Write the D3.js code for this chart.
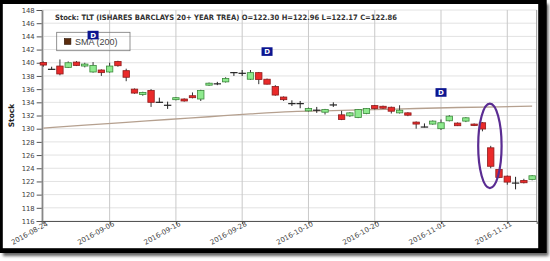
<!DOCTYPE html>
<html>
<head>
<meta charset="utf-8">
<script src="https://cdn.jsdelivr.net/npm/d3@7"></script>
<style>
  body { margin: 0; background: #fff; }
  svg { display: block; font-family: "DejaVu Sans", Verdana, sans-serif; }
</style>
</head>
<body>
<script>
// trading days shown on the chart (one candle each)
const dates = [
  "2016-08-24","2016-08-25","2016-08-26","2016-08-29","2016-08-30","2016-08-31",
  "2016-09-01","2016-09-02","2016-09-06","2016-09-07","2016-09-08","2016-09-09",
  "2016-09-12","2016-09-13","2016-09-14","2016-09-15","2016-09-16","2016-09-19",
  "2016-09-20","2016-09-21","2016-09-22","2016-09-23","2016-09-26","2016-09-27",
  "2016-09-28","2016-09-29","2016-09-30","2016-10-03","2016-10-04","2016-10-05",
  "2016-10-06","2016-10-07","2016-10-10","2016-10-11","2016-10-12","2016-10-13",
  "2016-10-14","2016-10-17","2016-10-18","2016-10-19","2016-10-20","2016-10-21",
  "2016-10-24","2016-10-25","2016-10-26","2016-10-27","2016-10-28","2016-10-31",
  "2016-11-01","2016-11-02","2016-11-03","2016-11-04","2016-11-07","2016-11-08",
  "2016-11-09","2016-11-10","2016-11-11","2016-11-14","2016-11-15","2016-11-16"
]
const opens = [
  140.05,139.05,139.5,139.3,140.1,139.5, 138.6,138.9,138.6,140.2,138.8,136.0,
  135.2,135.8,134.05,133.6,134.4,134.5, 135.0,134.5,136.6,136.9,137.1,138.55,
  138.45,137.5,138.5,137.5,136.4,134.8, 133.85,133.85,132.7,132.85,132.5,133.7,
  132.1,131.95,131.7,132.3,133.5,133.4, 133.25,132.4,132.4,131.0,130.3,130.7,
  130.0,131.2,130.85,131.15,130.7,130.9, 127.1,123.8,122.8,121.8,122.15,122.30
]
const highs = [
  140.2,139.4,140.5,140.2,140.25,140.0, 140.1,139.0,140.0,140.3,139.1,136.1,
  135.6,136.0,134.7,134.1,134.8,134.6, 135.5,135.9,137.0,137.1,137.8,138.6,
  138.9,138.9,138.6,137.6,136.6,134.9, 134.3,134.2,133.2,133.3,133.0,134.0,
  132.7,132.5,132.95,133.1,133.6,133.5, 133.35,133.55,132.5,131.1,130.8,131.25,
  131.4,132.05,130.95,131.75,130.8,131.0, 127.4,123.9,122.9,122.7,122.4,122.96
]
const lows = [
  139.4,138.9,138.1,139.2,139.5,139.3, 138.5,138.0,138.5,139.4,137.2,135.3,
  135.0,133.3,133.9,133.0,134.3,134.1, 134.6,134.2,136.5,136.6,137.0,138.0,
  138.0,137.4,136.75,136.7,135.0,134.2, 133.45,133.1,132.6,132.4,132.15,133.3,
  131.3,131.8,131.6,132.2,132.9,133.0, 132.3,132.3,131.9,130.0,130.2,130.6,
  129.8,131.1,130.4,131.0,130.4,129.6, 124.0,122.5,121.5,120.8,121.7,122.17
]
const closes = [
  139.65,139.0,138.3,140.0,139.6,139.8, 139.6,138.5,139.5,139.55,137.8,135.4,
  135.5,134.0,134.0,133.55,134.7,134.2, 134.7,135.8,136.9,136.8,137.6,138.5,
  138.4,138.5,137.45,136.75,135.1,134.4, 133.8,133.8,133.05,132.8,132.9,133.6,
  131.4,132.4,132.9,133.05,133.05,133.1, 132.65,132.8,132.05,130.7,130.25,131.15,
  130.9,131.9,130.45,131.65,130.55,129.95, 124.3,122.6,121.9,121.75,121.8,122.86
]
// 200-day SMA, read every 5 trading days
const smaDays = [0,5,10,15,20,25,30,35,40,45,50,55,59]
const smaValues = [130.10,130.54,130.96,131.39,131.81,132.24,132.59,132.74,132.89,133.06,133.21,133.32,133.41]

const yTicks = [116,118,120,122,124,126,128,130,132,134,136,138,140,142,144,146,148]
const xTickDays = [0,8,16,24,32,40,48,56]
const dividendDays = [6,27,48]
const title = "Stock: TLT (ISHARES BARCLAYS 20+ YEAR TREA) O=122.30 H=122.96 L=122.17 C=122.86"

const W = 550, H = 261
const plot = {left: 41.7, right: 536.7, top: 10, bottom: 221}

const svg = d3.select('body').append('svg')
    .attr('width', W)
    .attr('height', H)

// drop shadow + black frame of the screenshot
const defs = svg.append('defs')
defs.append('filter').attr('id', 'shadow')
    .attr('x', '-5%').attr('y', '-5%').attr('width', '110%').attr('height', '115%')
  .append('feGaussianBlur').attr('stdDeviation', 1.8)

svg.append('rect')
    .attr('x', 3).attr('y', 4).attr('width', 545.5).attr('height', 252)
    .attr('fill', '#666')
    .attr('filter', 'url(#shadow)')
svg.append('rect')
    .attr('x', 0).attr('y', 0).attr('width', 546.7).attr('height', 253)
    .attr('fill', '#000')
svg.append('rect')
    .attr('x', 2.8).attr('y', 4).attr('width', 535.4).attr('height', 244.2)
    .attr('fill', '#fff')

const xScale = d3.scaleLinear()
    .domain([-0.2, 59.55])
    .range([plot.left, plot.right])

const yScale = d3.scaleLinear()
    .domain([116, 148])
    .range([plot.bottom, plot.top])

// horizontal grid
svg.append('g')
    .selectAll('line')
    .data(yTicks)
    .enter()
    .append('line')
    .attr('x1', plot.left).attr('x2', plot.right)
    .attr('y1', d => yScale(d)).attr('y2', d => yScale(d))
    .attr('stroke', '#e2e2e2')

// vertical grid
svg.append('g')
    .selectAll('line')
    .data(xTickDays)
    .enter()
    .append('line')
    .attr('x1', d => xScale(d)).attr('x2', d => xScale(d))
    .attr('y1', plot.top).attr('y2', plot.bottom)
    .attr('stroke', '#c9c9c9')

// right border of plot
svg.append('line')
    .attr('x1', plot.right).attr('x2', plot.right)
    .attr('y1', plot.top).attr('y2', plot.bottom)
    .attr('stroke', '#999')

// y axis
const yAxis = svg.append('g')
    .attr('transform', 'translate(' + plot.left + ',0)')
    .call(d3.axisLeft(yScale).tickValues(yTicks).tickSize(5).tickPadding(2))
yAxis.select('.domain').attr('stroke', '#555')
yAxis.selectAll('.tick line').attr('stroke', '#555')
yAxis.selectAll('text')
    .attr('font-size', '6.8px')
    .attr('fill', '#444')
    .style('font-family', '"DejaVu Sans", sans-serif')

// x axis
const xAxis = svg.append('g')
    .attr('transform', 'translate(0,' + plot.bottom + ')')
    .call(d3.axisBottom(xScale).tickValues(xTickDays).tickSize(3).tickFormat(d => dates[d]))
xAxis.select('.domain').attr('stroke', '#555')
xAxis.selectAll('.tick line').attr('stroke', '#555')
xAxis.selectAll('text')
    .attr('font-size', '7px')
    .attr('fill', '#444')
    .style('font-family', '"DejaVu Sans", sans-serif')
    .attr('text-anchor', 'end')
    .attr('dy', null)
    .attr('y', 6)
    .attr('x', 2)
    .attr('transform', 'rotate(-29)')

// axis title
svg.append('text')
    .attr('transform', 'translate(14,115.5) rotate(-90)')
    .attr('text-anchor', 'middle')
    .attr('font-size', '7.5px')
    .attr('font-weight', 'bold')
    .attr('fill', '#222')
    .text('Stock')

// 200 day moving average
const smaLine = d3.line()
    .x((d, i) => xScale(smaDays[i]))
    .y(d => yScale(d))
    .curve(d3.curveMonotoneX)
svg.append('path')
    .datum(smaValues)
    .attr('d', smaLine)
    .attr('fill', 'none')
    .attr('stroke', '#b5a08f')
    .attr('stroke-width', 1.3)

// candlesticks
const candles = dates.map((d, i) => ({i: i, o: opens[i], h: highs[i], l: lows[i], c: closes[i]}))
const bodyW = 6.4

const candleG = svg.append('g')
    .selectAll('g')
    .data(candles)
    .enter()
    .append('g')

candleG.each(function(d) {
    const g = d3.select(this)
    const x = xScale(d.i)
    const flat = Math.abs(d.c - d.o) < 0.1
    const up = d.c > d.o
    const stroke = flat ? '#222' : (up ? '#3b8a3b' : '#8e1b1b')
    g.append('line')
        .attr('x1', x).attr('x2', x)
        .attr('y1', yScale(d.h)).attr('y2', yScale(d.l))
        .attr('stroke', flat ? '#222' : '#333')
        .attr('stroke-width', 1)
    if (flat) {
        g.append('line')
            .attr('x1', x - bodyW / 2 - 0.5).attr('x2', x + bodyW / 2 + 0.5)
            .attr('y1', yScale(d.c)).attr('y2', yScale(d.c))
            .attr('stroke', stroke)
            .attr('stroke-width', 1.2)
    } else {
        g.append('rect')
            .attr('x', x - bodyW / 2)
            .attr('y', yScale(Math.max(d.o, d.c)))
            .attr('width', bodyW)
            .attr('height', Math.max(1.5, yScale(Math.min(d.o, d.c)) - yScale(Math.max(d.o, d.c))))
            .attr('fill', up ? '#8eea8e' : '#ea2a2a')
            .attr('stroke', stroke)
            .attr('stroke-width', 0.8)
    }
})

// legend
const legend = svg.append('g')
legend.append('rect')
    .attr('x', 56.7).attr('y', 32.3)
    .attr('width', 73.3).attr('height', 18.4)
    .attr('fill', 'none')
    .attr('stroke', '#777')
    .attr('stroke-width', 0.8)
legend.append('rect')
    .attr('x', 64.3).attr('y', 38.6)
    .attr('width', 6.6).attr('height', 5.8)
    .attr('fill', '#5b2c0e')
    .attr('stroke', '#2a1405')
    .attr('stroke-width', 0.6)
legend.append('text')
    .attr('x', 75)
    .attr('y', 44.6)
    .attr('font-size', '9px')
    .attr('fill', '#444')
    .style('font-family', '"Liberation Sans", Arial, sans-serif')
    .text('SMA (200)')

// dividend markers (drawn over the legend, as in the source)
const divG = svg.append('g')
    .selectAll('g')
    .data(dividendDays)
    .enter()
    .append('g')
    .attr('transform', d => 'translate(' + xScale(d) + ',' + (yScale(highs[d]) - 27) + ')')
divG.append('rect')
    .attr('x', -5.5).attr('y', -4.3)
    .attr('width', 11).attr('height', 8.6)
    .attr('fill', '#0b1590')
divG.append('text')
    .attr('text-anchor', 'middle')
    .attr('y', 2.6)
    .attr('font-size', '7px')
    .attr('font-weight', 'bold')
    .attr('fill', '#fff')
    .text('D')

// title
svg.append('text')
    .attr('x', 55)
    .attr('y', 20)
    .attr('font-size', '7.4px')
    .attr('font-weight', 'bold')
    .attr('fill', '#333')
    .attr('textLength', 342)
    .attr('lengthAdjust', 'spacingAndGlyphs')
    .text(title)

// annotation ellipse around the drop
svg.append('ellipse')
    .attr('cx', xScale(53.9))
    .attr('cy', yScale(127.4))
    .attr('rx', 11.7)
    .attr('ry', yScale(121) - yScale(127.4))
    .attr('fill', 'none')
    .attr('stroke', '#5a2c92')
    .attr('stroke-width', 2.2)
</script>
</body>
</html>
